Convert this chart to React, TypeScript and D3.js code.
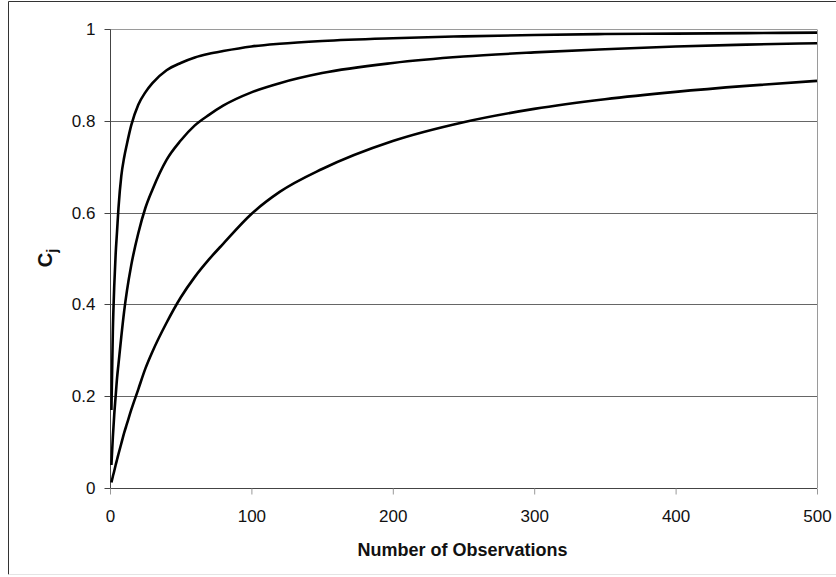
import React, { useEffect, useRef } from 'react';
import * as d3 from 'd3';

// number of observations (x)
const observations = [1, 2, 3, 4, 5, 6, 8, 10, 12, 15, 20, 25, 30, 40, 50, 60, 70, 80, 100, 120, 150, 200, 250, 300, 350, 400, 450, 500];

// Cj values
const seriesHigh = [0.17, 0.34, 0.44, 0.51, 0.56, 0.61, 0.68, 0.72, 0.75, 0.79, 0.835, 0.862, 0.882, 0.91, 0.926, 0.938, 0.946, 0.952, 0.962, 0.968, 0.974, 0.98, 0.984, 0.987, 0.989, 0.99, 0.991, 0.992];
const seriesMid = [0.05, 0.11, 0.16, 0.2, 0.24, 0.27, 0.33, 0.385, 0.43, 0.485, 0.555, 0.61, 0.65, 0.715, 0.757, 0.79, 0.813, 0.833, 0.862, 0.882, 0.904, 0.926, 0.94, 0.949, 0.956, 0.962, 0.966, 0.969];
const seriesLow = [0.012, 0.025, 0.037, 0.05, 0.062, 0.074, 0.097, 0.12, 0.14, 0.17, 0.215, 0.26, 0.297, 0.36, 0.415, 0.46, 0.498, 0.532, 0.597, 0.645, 0.695, 0.756, 0.797, 0.826, 0.847, 0.863, 0.876, 0.887];

const xTicks = [0, 100, 200, 300, 400, 500];
const yTicks = [0, 0.2, 0.4, 0.6, 0.8, 1];

const W = 836;
const H = 577;
const margin = { top: 29, right: 19, bottom: 89, left: 110 };
const font = '"Liberation Sans", Arial, sans-serif';

export default function App() {
  const ref = useRef<SVGSVGElement>(null);

  useEffect(() => {
    const svg = d3.select(ref.current);
    svg.selectAll('*').remove();

    const width = W - margin.left - margin.right;
    const height = H - margin.top - margin.bottom;

    // outer frame (left/top dark, bottom faint)
    svg.append('line').attr('x1', 8.5).attr('x2', 8.5).attr('y1', 1.5).attr('y2', 574.5).attr('stroke', '#333');
    svg.append('line').attr('x1', 8.5).attr('x2', W).attr('y1', 1.5).attr('y2', 1.5).attr('stroke', '#333');
    svg.append('line').attr('x1', 8.5).attr('x2', W).attr('y1', 574.5).attr('y2', 574.5).attr('stroke', '#e4e4e4');

    const g = svg.append('g').attr('transform', `translate(${margin.left},${margin.top})`);

    const x = d3.scaleLinear().domain([0, 500]).range([0, width]);
    const y = d3.scaleLinear().domain([0, 1]).range([height, 0]);

    // gridlines
    g.selectAll('.grid')
      .data(yTicks.filter(d => d > 0))
      .enter()
      .append('line')
      .attr('x1', 0)
      .attr('x2', width)
      .attr('y1', d => Math.round(y(d)) + 0.5)
      .attr('y2', d => Math.round(y(d)) + 0.5)
      .attr('stroke', d => (d === 1 ? '#9a9a9a' : '#666'));

    // right edge of plot area
    g.append('line')
      .attr('x1', Math.round(width) + 0.5).attr('x2', Math.round(width) + 0.5)
      .attr('y1', Math.round(y(1)) + 0.5).attr('y2', Math.round(y(0)))
      .attr('stroke', '#9a9a9a');

    // y axis
    const yAxis = d3.axisLeft(y).tickValues(yTicks).tickSize(6).tickPadding(9)
      .tickFormat(d => d3.format('~g')(d as number));
    const ya = g.append('g').attr('transform', 'translate(0.5,0)').call(yAxis);
    ya.select('.domain').attr('stroke', '#444').attr('d', `M-0,${Math.round(y(1)) + 0.5}V${Math.round(y(0)) + 0.5}`);
    ya.selectAll('.tick line').attr('stroke', '#444');
    ya.selectAll('.tick')
      .attr('transform', d => `translate(0,${Math.round(y(d as number)) + 0.5})`);
    ya.selectAll('text').attr('font-family', font).attr('font-size', 17).attr('fill', '#111');

    // x axis
    const xAxis = d3.axisBottom(x).tickValues(xTicks).tickSize(6).tickPadding(15);
    const xa = g.append('g').attr('transform', `translate(0,${Math.round(height) + 0.5})`).call(xAxis);
    xa.select('.domain').attr('stroke', '#444').attr('d', `M0,0H${width}`);
    xa.selectAll('.tick line').attr('stroke', '#999');
    xa.selectAll('text').attr('font-family', font).attr('font-size', 17).attr('fill', '#111');

    // curves
    const line = d3.line<number>()
      .x((d, i) => x(observations[i]))
      .y(d => y(d))
      .curve(d3.curveMonotoneX);

    [seriesHigh, seriesMid, seriesLow].forEach(s => {
      g.append('path')
        .datum(s)
        .attr('d', line)
        .attr('fill', 'none')
        .attr('stroke', '#000')
        .attr('stroke-width', 2.6)
        .attr('stroke-linejoin', 'round');
    });

    // axis titles
    svg.append('text')
      .attr('x', margin.left + width / 2 - 1)
      .attr('y', 556)
      .attr('text-anchor', 'middle')
      .attr('font-family', font)
      .attr('font-weight', 'bold')
      .attr('font-size', 18)
      .attr('fill', '#111')
      .text('Number of Observations');

    const yt = svg.append('text')
      .attr('transform', 'translate(52,258) rotate(-90)')
      .attr('text-anchor', 'middle')
      .attr('font-family', font)
      .attr('font-weight', 'bold')
      .attr('font-size', 20)
      .attr('fill', '#111');
    yt.append('tspan').text('C');
    yt.append('tspan').attr('font-size', 14).attr('dy', 5).text('j');
  }, []);

  return (
    <div style={{ position: 'absolute', left: 0, top: 0 }}>
      <svg ref={ref} width={W} height={H} style={{ display: 'block', background: '#fff' }} />
    </div>
  );
}
